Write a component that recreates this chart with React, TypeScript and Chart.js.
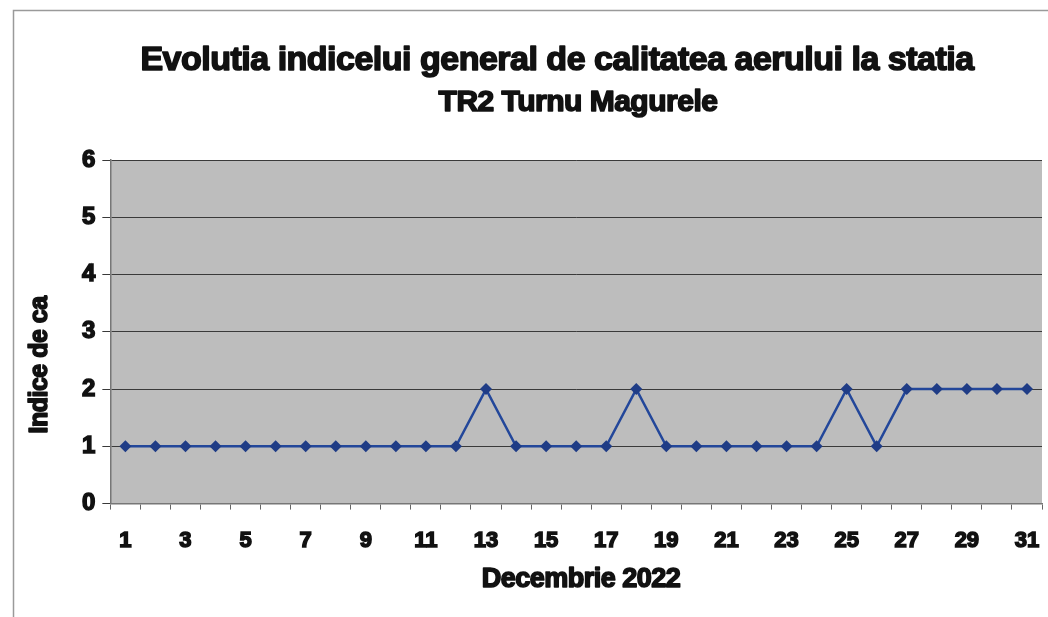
import React, { useEffect, useRef } from "react";
import { Chart, registerables } from "chart.js";

Chart.register(...registerables);

const days = Array.from({ length: 31 }, (_, i) => String(i + 1));
const indiceValues = [1, 1, 1, 1, 1, 1, 1, 1, 1, 1, 1, 1, 2, 1, 1, 1, 1, 2, 1, 1, 1, 1, 1, 1, 2, 1, 2, 2, 2, 2, 2];
const titleLines = ["Evolutia indicelui general de calitatea aerului la statia", "TR2 Turnu Magurele"];
const xTitle = "Decembrie 2022";
const yTitle = "Indice de ca";
const yTicks = [0, 1, 2, 3, 4, 5, 6];

const FONT = "'Liberation Sans', Arial, sans-serif";

function heavyText(ctx: any, text: string, x: number, y: number) {
  ctx.strokeText(text, x, y);
  ctx.fillText(text, x, y);
}

const decorPlugin = {
  id: "decor",
  beforeDraw(chart: any) {
    const { ctx, chartArea } = chart;
    ctx.save();
    ctx.strokeStyle = "#9a9a9a";
    ctx.lineWidth = 1.5;
    ctx.strokeRect(13.5, 10.5, 1100, 700);
    ctx.fillStyle = "#bdbdbd";
    ctx.fillRect(chartArea.left, chartArea.top, chartArea.right - chartArea.left, chartArea.bottom - chartArea.top);
    ctx.restore();
  },
  afterDraw(chart: any) {
    const { ctx } = chart;
    ctx.save();
    ctx.fillStyle = "#111";
    ctx.strokeStyle = "#111";
    ctx.lineWidth = 1.6;
    ctx.lineJoin = "round";
    ctx.textAlign = "center";
    ctx.textBaseline = "middle";
    (ctx as any).letterSpacing = "-0.5px";
    ctx.font = `bold 34px ${FONT}`;
    heavyText(ctx, titleLines[0], 557, 61);
    ctx.font = `bold 30px ${FONT}`;
    heavyText(ctx, titleLines[1], 578, 103);
    ctx.font = `bold 27px ${FONT}`;
    heavyText(ctx, xTitle, 581, 580);
    ctx.translate(40, 365);
    ctx.rotate(-Math.PI / 2);
    ctx.font = `bold 25px ${FONT}`;
    heavyText(ctx, yTitle, 0, 0);
    ctx.restore();
  },
};

export default function App() {
  const ref = useRef<HTMLCanvasElement>(null);
  useEffect(() => {
    if (!ref.current) return;
    const chart = new Chart(ref.current, {
      type: "line",
      data: {
        labels: days,
        datasets: [
          {
            data: indiceValues,
            borderColor: "#23479a",
            backgroundColor: "#1f3c86",
            borderWidth: 2.5,
            pointStyle: "rectRot",
            pointRadius: 6,
            pointBorderWidth: 0,
            tension: 0,
          },
        ],
      },
      options: {
        animation: false,
        responsive: false,
        maintainAspectRatio: false,
        layout: { padding: { top: 160, left: 75, right: 5, bottom: 45 } },
        plugins: { legend: { display: false }, title: { display: false }, tooltip: { enabled: false } },
        scales: {
          x: {
            offset: true,
            afterFit: (s: any) => {
              s.paddingRight = 0;
            },
            grid: { offset: true, drawOnChartArea: false, drawTicks: true, tickLength: 6, color: "#666" },
            border: { display: true, color: "#777", width: 1.5 },
            ticks: {
              autoSkip: false,
              maxRotation: 0,
              padding: 18,
              color: "#111",
              textStrokeColor: "#111",
              textStrokeWidth: 1.5,
              font: { family: FONT, size: 22, weight: "bold" },
              callback: (_v: any, i: number) => (i % 2 === 0 ? days[i] : ""),
            },
          },
          y: {
            min: 0,
            max: 6,
            afterBuildTicks: (scale: any) => {
              scale.ticks = yTicks.map((v) => ({ value: v }));
            },
            grid: { color: "#3a3a3a", lineWidth: 1, drawTicks: true, tickLength: 8 },
            border: { display: true, color: "#777", width: 1.5 },
            ticks: {
              padding: 7,
              color: "#111",
              textStrokeColor: "#111",
              textStrokeWidth: 1.5,
              font: { family: FONT, size: 24, weight: "bold" },
            },
          },
        },
      },
      plugins: [decorPlugin],
    });
    return () => chart.destroy();
  }, []);
  return (
    <div style={{ position: "fixed", left: 0, top: 0, width: 1048, height: 617, background: "#fff" }}>
      <canvas ref={ref} width={1048} height={617} style={{ display: "block" }} />
    </div>
  );
}
